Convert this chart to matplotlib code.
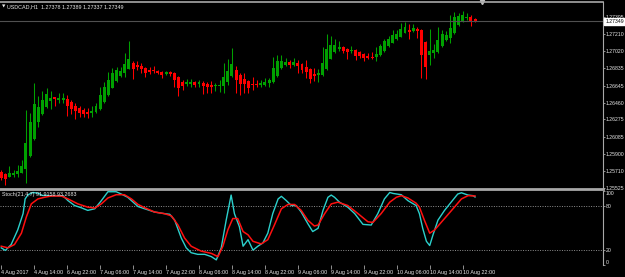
import numpy as np
import matplotlib
matplotlib.use("Agg")
import matplotlib.pyplot as plt

SYMBOL = "USDCAD,H1"

opens = [1.25703, 1.25678, 1.25649, 1.25668, 1.25678, 1.25693, 1.25733, 1.25875, 1.26061, 1.26250,
         1.26335, 1.26411, 1.26477, 1.26517, 1.26488, 1.26488, 1.26502, 1.26466, 1.26426, 1.26400,
         1.26378, 1.26356, 1.26346, 1.26356, 1.26386, 1.26463, 1.26543, 1.26623, 1.26696, 1.26754,
         1.26780, 1.26830, 1.26889, 1.26871, 1.26860, 1.26841, 1.26819, 1.26816, 1.26809, 1.26798,
         1.26772, 1.26791, 1.26780, 1.26736, 1.26688, 1.26663, 1.26666, 1.26682, 1.26663, 1.26674,
         1.26660, 1.26655, 1.26641, 1.26644, 1.26644, 1.26688, 1.26750, 1.26816, 1.26762, 1.26714,
         1.26696, 1.26666, 1.26663, 1.26655, 1.26655, 1.26674, 1.26682, 1.26754, 1.26835, 1.26871,
         1.26900, 1.26874, 1.26889, 1.26882, 1.26849, 1.26824, 1.26776, 1.26758, 1.26762, 1.26830,
         1.26937, 1.27013, 1.27046, 1.27064, 1.27049, 1.27024, 1.27035, 1.27010, 1.26991, 1.26973,
         1.26962, 1.26955, 1.26977, 1.27027, 1.27079, 1.27115, 1.27152, 1.27180, 1.27221, 1.27254,
         1.27243, 1.27265, 1.27254, 1.27122, 1.26980, 1.27002, 1.27013, 1.27079, 1.27144, 1.27166,
         1.27221, 1.27308, 1.27352, 1.27385, 1.27396, 1.27378]
highs = [1.25722, 1.25689, 1.25766, 1.25722, 1.25777, 1.25831, 1.26378, 1.26346, 1.26674, 1.26532,
         1.26590, 1.26619, 1.26586, 1.26524, 1.26561, 1.26561, 1.26539, 1.26488, 1.26452, 1.26422,
         1.26397, 1.26400, 1.26422, 1.26452, 1.26633, 1.26688, 1.26798, 1.26835, 1.26852, 1.26852,
         1.27005, 1.27133, 1.26915, 1.26911, 1.26889, 1.26852, 1.26852, 1.26860, 1.26816, 1.26809,
         1.26809, 1.26809, 1.26794, 1.26750, 1.26703, 1.26714, 1.26714, 1.26693, 1.26707, 1.26696,
         1.26685, 1.26696, 1.26671, 1.26707, 1.26889, 1.26933, 1.27054, 1.26860, 1.26780, 1.26780,
         1.26707, 1.26736, 1.26707, 1.26707, 1.26725, 1.26725, 1.26962, 1.26980, 1.26980, 1.26944,
         1.26925, 1.26951, 1.26925, 1.26896, 1.26925, 1.26835, 1.26835, 1.26824, 1.27071, 1.27210,
         1.27188, 1.27152, 1.27137, 1.27079, 1.27057, 1.27079, 1.27043, 1.27021, 1.26999, 1.26999,
         1.27010, 1.27064, 1.27101, 1.27152, 1.27188, 1.27254, 1.27254, 1.27334, 1.27341, 1.27319,
         1.27319, 1.27287, 1.27265, 1.27133, 1.27265, 1.27101, 1.27287, 1.27254, 1.27243, 1.27418,
         1.27451, 1.27440, 1.27462, 1.27440, 1.27418, 1.27389]
lows = [1.25613, 1.25558, 1.25640, 1.25649, 1.25649, 1.25686, 1.25580, 1.25864, 1.26050, 1.26196,
        1.26324, 1.26400, 1.26389, 1.26422, 1.26458, 1.26458, 1.26313, 1.26335, 1.26283, 1.26299,
        1.26305, 1.26291, 1.26305, 1.26349, 1.26378, 1.26452, 1.26532, 1.26616, 1.26688, 1.26743,
        1.26736, 1.26824, 1.26714, 1.26816, 1.26780, 1.26743, 1.26769, 1.26780, 1.26769, 1.26725,
        1.26762, 1.26754, 1.26627, 1.26532, 1.26597, 1.26641, 1.26633, 1.26633, 1.26633, 1.26554,
        1.26561, 1.26568, 1.26590, 1.26579, 1.26568, 1.26652, 1.26743, 1.26568, 1.26539, 1.26568,
        1.26561, 1.26597, 1.26627, 1.26627, 1.26644, 1.26633, 1.26671, 1.26743, 1.26824, 1.26863,
        1.26841, 1.26860, 1.26780, 1.26780, 1.26725, 1.26671, 1.26696, 1.26688, 1.26750, 1.26816,
        1.26933, 1.27005, 1.27027, 1.26999, 1.26933, 1.26999, 1.26925, 1.26944, 1.26911, 1.26933,
        1.26933, 1.26911, 1.26969, 1.27016, 1.27071, 1.27108, 1.27144, 1.27174, 1.27217, 1.27155,
        1.27232, 1.27166, 1.26729, 1.26718, 1.26871, 1.26947, 1.27002, 1.27068, 1.27133, 1.27112,
        1.27210, 1.27297, 1.27341, 1.27363, 1.27297, 1.27337]
closes = [1.25632, 1.25624, 1.25693, 1.25693, 1.25714, 1.25769, 1.26021, 1.26250, 1.26444, 1.26411,
          1.26488, 1.26554, 1.26510, 1.26502, 1.26510, 1.26513, 1.26422, 1.26386, 1.26371, 1.26342,
          1.26335, 1.26335, 1.26368, 1.26422, 1.26539, 1.26627, 1.26707, 1.26787, 1.26816, 1.26809,
          1.26882, 1.26937, 1.26827, 1.26849, 1.26824, 1.26780, 1.26791, 1.26802, 1.26780, 1.26762,
          1.26798, 1.26772, 1.26707, 1.26623, 1.26644, 1.26688, 1.26685, 1.26652, 1.26685, 1.26641,
          1.26630, 1.26630, 1.26652, 1.26652, 1.26740, 1.26809, 1.26879, 1.26707, 1.26663, 1.26663,
          1.26623, 1.26655, 1.26655, 1.26671, 1.26688, 1.26703, 1.26835, 1.26915, 1.26915, 1.26900,
          1.26868, 1.26904, 1.26863, 1.26816, 1.26794, 1.26721, 1.26754, 1.26780, 1.26896, 1.27043,
          1.27086, 1.27086, 1.27068, 1.27027, 1.27013, 1.27035, 1.26973, 1.26973, 1.26944, 1.26951,
          1.26951, 1.26995, 1.27079, 1.27130, 1.27159, 1.27196, 1.27213, 1.27261, 1.27287, 1.27232,
          1.27276, 1.27243, 1.26980, 1.26849, 1.27024, 1.27035, 1.27144, 1.27210, 1.27199, 1.27276,
          1.27396, 1.27407, 1.27418, 1.27396, 1.27352, 1.27349]

price_ticks = [1.27395, 1.27210, 1.27020, 1.26835, 1.26645, 1.26460,
               1.26275, 1.26085, 1.25900, 1.25710, 1.25525]

time_label_bars = [0, 8, 16, 24, 32, 40, 48, 56, 64, 72, 80, 88, 96, 104, 112]
time_labels = ["4 Aug 2017", "4 Aug 14:00", "6 Aug 22:00", "7 Aug 06:00", "7 Aug 14:00",
               "7 Aug 22:00", "8 Aug 06:00", "8 Aug 14:00", "8 Aug 22:00", "9 Aug 06:00",
               "9 Aug 14:00", "9 Aug 22:00", "10 Aug 06:00", "10 Aug 14:00", "10 Aug 22:00"]

# stochastic main line (read at its turning points)
main_bars = [0, 1, 2.4, 4, 5.3, 5.8, 6.5, 7.7, 9, 10, 15, 16.2, 17.8, 19.4, 21, 22.7, 24.3,
             25.9, 27.9, 29.1, 30.7, 32, 33.2, 34.8, 37.2, 39.6, 40.9, 42.1, 43.7, 44.9,
             46.1, 47.7, 49.4, 51, 52.2, 53.4, 54.6, 55.8, 56.6, 57.8, 58.7, 59.9, 61.1,
             62.3, 63.5, 64.7, 65.9, 67.2, 68, 69.2, 70.4, 71.6, 72.8, 74.4, 75.6, 76.9,
             78.1, 79.3, 80.1, 80.9, 82.1, 84.1, 85.8, 87.8, 89.8, 91.4, 93, 94.3, 95.1,
             97.1, 98.7, 100.7, 101.5, 102.3, 103.2, 104, 104.8, 106, 107.6, 109.2, 110.8,
             111.7, 113.3, 114.5, 115]
main_vals = [23.2, 19.7, 27.6, 47.4, 69.4, 89.3, 95, 98, 97, 94, 93.5, 87, 80.4, 77.4, 73.8,
             76, 87, 99, 99, 96, 91.5, 85, 79, 76, 71.6, 69.4, 68.5, 60.6, 36.4, 23.2,
             16.6, 14.4, 14.4, 11.3, 6.9, 23.2, 60.6, 94.5, 69.4, 51.8, 25.4, 34.2, 20.1,
             25.4, 29.8, 43, 69.4, 89.3, 92.8, 87, 80.4, 80.4, 71.6, 56, 45.2, 49.6,
             73.8, 91.5, 94.5, 91.5, 84.9, 78.2, 69.4, 54.9, 54, 69.4, 89.3, 98, 96.7,
             95, 87, 80.4, 69.4, 49.6, 32, 26.3, 40.8, 60.6, 73.8, 84.9, 95.9,
             97.6, 94.5, 93.7, 91.9]
# stochastic signal line
sig_bars = [0, 1.6, 3.2, 4.9, 6.1, 7.3, 8.9, 10.5, 12.1, 14.6, 16.2, 18.6, 21, 22.7, 24.3,
            25.9, 27.9, 29.9, 31.6, 33.2, 34.8, 37.2, 39.6, 41.3, 42.9, 44.5, 46.1, 48.5,
            51, 52.6, 53.8, 55, 56.2, 57.4, 58.7, 59.9, 61.1, 63.1, 64.7, 66.3, 68, 69.6,
            71.2, 72.8, 74.4, 76, 76.9, 78.5, 80.1, 81.7, 84.1, 86.6, 89, 90.2, 92.2,
            94.3, 95.9, 97.1, 98.7, 100.7, 101.5, 102.7, 104, 105.2, 107.6, 110, 111.7,
            113.3, 115]
sig_vals = [25.4, 23.2, 27.6, 43, 65, 82.6, 89.3, 91.5, 93.2, 93.2, 89.3, 82.6, 78.2, 76.9,
            82.6, 90.6, 95, 95, 89.3, 81.8, 77.4, 71.6, 69.4, 66.4, 54, 36.4, 25.4, 18.8,
            15.7, 11.3, 25.4, 47.4, 62.8, 62.8, 45.2, 40.8, 32, 28.5, 34.2, 54, 76, 81.8,
            81.8, 73.8, 60.6, 52.7, 54, 69.4, 82.6, 84.9, 80.4, 69.4, 58.4, 57.5, 69.4,
            84.9, 91.5, 93.7, 90.6, 83.5, 78.2, 60.6, 43, 47.4, 62.8, 78.2, 89.3,
            93.7, 93.3]
stoch_ticks = [100, 80, 20, 0]

BG = "black"
FRAME = "#a8a8a8"
TXT = "#e8e8e8"
UP = "#00a000"
DOWN = "#ff0000"
FS = 3.9
FS_AX = 3.7

plt.rcParams["font.family"] = ["Liberation Sans", "DejaVu Sans"]
plt.rcParams["font.size"] = FS

W, H = 625, 277
fig = plt.figure(figsize=(W / 100, H / 100), dpi=100, facecolor=BG)
ax = fig.add_axes([0, 88 / H, 603 / W, 187 / H], facecolor=BG)
ax2 = fig.add_axes([0, 12 / H, 603 / W, 74 / H], facecolor=BG, sharex=ax)

# candles
o = np.array(opens)
h = np.array(highs)
l = np.array(lows)
c = np.array(closes)
x = np.arange(len(o))
cols = np.where(c >= o, UP, DOWN)
ax.vlines(x, l, h, colors=cols, lw=0.75)
body = np.maximum(np.abs(c - o), 0.00008)
ax.bar(x, body, bottom=np.minimum(o, c), width=0.72, color=cols, linewidth=0)

ax.axhline(c[-1], color="#505050", lw=0.8)
ax.set_xlim(-0.3, 603 / 4.12 - 0.3)
ax.set_ylim(1.25514, 1.27560)

for a in (ax, ax2):
    for s in a.spines.values():
        s.set_color(FRAME)
    a.spines["left"].set_visible(False)
    a.yaxis.tick_right()
ax.spines["top"].set_linewidth(1.2)
ax.spines["bottom"].set_linewidth(2.0)
ax2.spines["top"].set_visible(False)
ax2.spines["bottom"].set_visible(False)

ax.set_yticks(price_ticks)
ax.set_yticklabels([f"{v:.5f}" for v in price_ticks], fontsize=FS_AX)
ax.tick_params(axis="y", colors=FRAME, labelcolor=TXT, length=1.6, width=0.6, pad=0.5)
ax.tick_params(axis="x", bottom=False, labelbottom=False)

ax.annotate(f"{c[-1]:.5f}", xy=(1.0, c[-1]), xycoords=("axes fraction", "data"),
            xytext=(1.6, 0), textcoords="offset points", va="center", ha="left",
            color="black", fontsize=FS_AX, annotation_clip=False,
            bbox=dict(boxstyle="square,pad=0.15", fc="white", ec="white"))

ax.text(0.003, 0.975, "\u25bc", transform=ax.transAxes, color=TXT, fontsize=3.2,
        va="center", ha="left", family="DejaVu Sans")
ax.text(0.011, 0.975, f"{SYMBOL}  {o[-1]:.5f} {h[-1]:.5f} {l[-1]:.5f} {c[-1]:.5f}",
        transform=ax.transAxes, color=TXT, va="center", ha="left")
ax.plot([482 / 603], [0.998], marker="v", ms=3, color="#c0c0c0",
        transform=ax.transAxes, clip_on=False)

# stochastic panel
ax2.axhline(80, color="#909090", ls=(0, (1, 1.5)), lw=0.7)
ax2.axhline(20, color="#909090", ls=(0, (1, 1.5)), lw=0.7)
ax2.plot(main_bars, main_vals, color="#2cd0cc", lw=1.0)
ax2.plot(sig_bars, sig_vals, color="#ff1010", lw=1.1)
ax2.set_ylim(0, 100)
ax2.set_yticks(stoch_ticks)
ax2.set_yticklabels([str(v) for v in stoch_ticks], fontsize=FS_AX)
ax2.tick_params(axis="y", colors=FRAME, labelcolor=TXT, length=1.6, width=0.6, pad=0.5)
for lbl in ax2.get_yticklabels():
    if lbl.get_text() == "100":
        lbl.set_va("top")
    elif lbl.get_text() == "0":
        lbl.set_va("bottom")

ax2.set_xticks(time_label_bars)
ax2.set_xticklabels(time_labels)
ax2.tick_params(axis="x", colors=FRAME, labelcolor=TXT, length=3, width=0.6, pad=0.5)
for lbl in ax2.get_xticklabels():
    lbl.set_ha("left")

ax2.text(0.003, 0.955, "Stoch(21,4,7) 91.9158 93.2683", transform=ax2.transAxes,
         color=TXT, va="center", ha="left")

fig.savefig("out.png", dpi=100, facecolor=BG)
